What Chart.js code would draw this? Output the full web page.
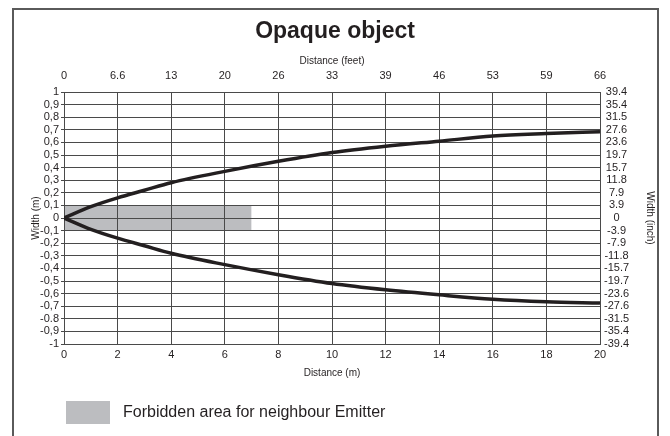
<!DOCTYPE html>
<html>
<head>
<meta charset="utf-8">
<script src="https://cdn.jsdelivr.net/npm/chart.js@4/dist/chart.umd.min.js"></script>
<style>
  html, body { margin:0; padding:0; background:#fff; overflow:hidden; }
  #wrap { position:relative; width:670px; height:436px; }
  #frame { position:absolute; left:12px; top:8px; width:647px; height:440px; border:2px solid #5a5a5a; box-sizing:border-box; }
  canvas { position:absolute; left:0; top:0; }
</style>
</head>
<body>
<div id="wrap">
  <div id="frame"></div>
  <canvas id="c" width="670" height="436"></canvas>
</div>
<script>
// ---- data ----
const distanceM = [0, 1, 2, 3, 4, 6, 8, 10, 12, 14, 16, 18, 20];
const upperWidthM = [0, 0.09, 0.16, 0.22, 0.28, 0.37, 0.45, 0.52, 0.57, 0.61, 0.65, 0.67, 0.685];
const lowerWidthM = [0, -0.09, -0.16, -0.22, -0.28, -0.37, -0.45, -0.52, -0.57, -0.61, -0.645, -0.665, -0.675];
const forbiddenX = [0, 7];
const forbiddenTop = 0.1;
const forbiddenBottom = -0.1;
const feetLabels = ['0','6.6','13','20','26','33','39','46','53','59','66'];
const meterXLabels = ['0','2','4','6','8','10','12','14','16','18','20'];
const widthMLabels = ['1','0,9','0,8','0,7','0,6','0,5','0,4','0,3','0,2','0,1','0','-0,1','-0,2','-0,3','-0,4','-0,5','-0,6','-0,7','-0.8','-0,9','-1'];
const widthInchLabels = ['39.4','35.4','31.5','27.6','23.6','19.7','15.7','11.8','7.9','3.9','0','-3.9','-7.9','-11.8','-15.7','-19.7','-23.6','-27.6','-31.5','-35.4','-39.4'];
const titleText = 'Opaque object';
const legendText = 'Forbidden area for neighbour Emitter';

const FONT = "'Liberation Sans', Arial, Helvetica, sans-serif";
const INK = '#231f20';
const GRID = '#4a4a4a';
const GRAY = '#bcbdc0';

Chart.defaults.font.family = FONT;
Chart.defaults.color = INK;

const toPts = (xs, ys) => xs.map((x, i) => ({x, y: ys[i]}));
const yIdx = v => Math.round((1 - v) * 10);

const legendPlugin = {
  id: 'customLegend',
  afterDraw(chart) {
    const ctx = chart.ctx;
    ctx.save();
    ctx.fillStyle = GRAY;
    ctx.fillRect(66, 401, 44, 23);
    ctx.fillStyle = INK;
    ctx.font = '16px ' + FONT;
    ctx.textBaseline = 'middle';
    ctx.textAlign = 'left';
    ctx.fillText(legendText, 123, 413);
    ctx.restore();
  }
};

new Chart(document.getElementById('c'), {
  type: 'line',
  data: {
    datasets: [
      {
        label: 'upper',
        data: toPts(distanceM, upperWidthM),
        borderColor: INK, borderWidth: 3.5, pointRadius: 0,
        cubicInterpolationMode: 'monotone', fill: false,
        xAxisID: 'x', yAxisID: 'y'
      },
      {
        label: 'lower',
        data: toPts(distanceM, lowerWidthM),
        borderColor: INK, borderWidth: 3.5, pointRadius: 0,
        cubicInterpolationMode: 'monotone', fill: false,
        xAxisID: 'x', yAxisID: 'y'
      },
      {
        label: legendText,
        data: toPts(forbiddenX, [forbiddenTop, forbiddenTop]),
        borderWidth: 0, borderColor: 'rgba(0,0,0,0)', pointRadius: 0,
        backgroundColor: GRAY,
        fill: {value: forbiddenBottom},
        xAxisID: 'x', yAxisID: 'y'
      }
    ]
  },
  options: {
    responsive: false,
    animation: false,
    devicePixelRatio: 1,
    layout: { padding: {left: 0, right: 0, top: 0, bottom: 44} },
    plugins: {
      legend: { display: false },
      tooltip: { enabled: false },
      filler: { drawTime: 'beforeDraw' },
      title: {
        display: true, text: titleText, color: INK,
        font: {size: 23, weight: 'bold', family: FONT},
        padding: {top: 18, bottom: 0}
      }
    },
    scales: {
      x: {
        type: 'linear', position: 'bottom', min: 0, max: 20,
        ticks: { stepSize: 2, autoSkip: false, maxRotation: 0, padding: 4, font: {size: 11},
          callback: v => meterXLabels[Math.round(v / 2)] },
        grid: { color: GRID, lineWidth: 1, drawTicks: false },
        border: { color: GRID, width: 1 },
        title: { display: true, text: 'Distance (m)', font: {size: 10}, padding: {top: 0, bottom: 13} },
        afterFit: s => { s.height = 48; }
      },
      x2: {
        type: 'linear', position: 'top', min: 0, max: 20,
        ticks: { stepSize: 2, autoSkip: false, maxRotation: 0, padding: 9, font: {size: 11},
          callback: v => feetLabels[Math.round(v / 2)] },
        grid: { display: false, drawTicks: false },
        border: { color: GRID, width: 1 },
        title: { display: true, text: 'Distance (feet)', font: {size: 10}, padding: {top: 10, bottom: 0} },
        afterFit: s => { s.height = 46.4; }
      },
      y: {
        type: 'linear', position: 'left', min: -1, max: 1,
        ticks: { stepSize: 0.1, autoSkip: false, padding: 2, font: {size: 11},
          callback: v => widthMLabels[yIdx(v)] },
        grid: { color: GRID, lineWidth: 1, drawTicks: true, tickLength: 3 },
        border: { color: GRID, width: 1 },
        title: { display: true, text: 'Width (m)', font: {size: 10}, padding: {top: 30, bottom: 0} },
        afterFit: s => { s.width = 64; }
      },
      y2: {
        type: 'linear', position: 'right', min: -1, max: 1,
        ticks: { stepSize: 0.1, autoSkip: false, padding: 4, crossAlign: 'center', font: {size: 11},
          callback: v => widthInchLabels[yIdx(v)] },
        grid: { display: false, drawTicks: false },
        border: { color: GRID, width: 1 },
        title: { display: true, text: 'Width (inch)', font: {size: 10}, padding: {top: 14, bottom: 0} },
        afterFit: s => { s.width = 70; }
      }
    }
  },
  plugins: [legendPlugin]
});
</script>
</body>
</html>
